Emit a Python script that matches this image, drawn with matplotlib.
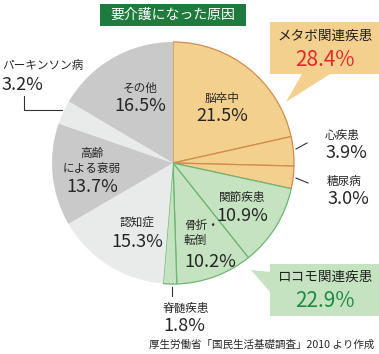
import matplotlib
matplotlib.use("Agg")
import matplotlib.pyplot as plt
from matplotlib.patches import Rectangle, Polygon

plt.rcParams['font.family'] = ['Noto Sans CJK JP', 'DejaVu Sans']

W, H = 379, 354

# data (clockwise from 12 o'clock)
causes = ["脳卒中", "心疾患", "糖尿病", "関節疾患", "骨折・転倒", "脊髄疾患",
          "認知症", "高齢による衰弱", "パーキンソン病", "その他"]
shares = [21.5, 3.9, 3.0, 10.9, 10.2, 1.8, 15.3, 13.7, 3.2, 16.5]
groups = ["metabo", "metabo", "metabo", "locomo", "locomo", "locomo",
          "light", "dark", "light", "dark"]
metabo_total = 28.4
locomo_total = 22.9

fill = {"metabo": "#F3D08E", "locomo": "#C6E3C1", "light": "#E9EAEA", "dark": "#C9C9C9"}
edge = {"metabo": "#D38B4C", "locomo": "#6DB574", "light": "none", "dark": "none"}

def Y(y):
    return H - y

fig = plt.figure(figsize=(W / 100, H / 100), dpi=100)
ax = fig.add_axes([0, 0, 1, 1])

wedges, _ = ax.pie(shares, center=(173, Y(163)), radius=121, startangle=90,
                   counterclock=False, colors=[fill[g] for g in groups],
                   wedgeprops=dict(linewidth=0.9), frame=True)
for w, g in zip(wedges, groups):
    w.set_edgecolor(edge[g])
    if edge[g] == "none":
        w.set_linewidth(0)
ax.set_xlim(0, W)
ax.set_ylim(0, H)
ax.set_aspect("equal")
ax.axis("off")

txt = "#262626"

# title box
ax.add_patch(Rectangle((100, Y(26)), 146, 22, facecolor="#1F7B3D", edgecolor="none"))
ax.text(173, Y(15), "要介護になった原因", color="white", fontsize=10,
        ha="center", va="center")

# slice labels
def lab(name, pct, x, yn, yp, ha="center", fs=8.4, pfs=13):
    ax.text(x, Y(yn), name, fontsize=fs, color=txt, ha=ha, va="center",
            linespacing=1.25)
    ax.text(x, Y(yp), pct, fontsize=pfs, color=txt, ha=ha, va="center")

lab(causes[9], f"{shares[9]}%", 140, 88, 106)
lab(causes[0], f"{shares[0]}%", 222, 98, 116)
lab(causes[1], f"{shares[1]}%", 325, 135, 153, ha="left")
lab(causes[2], f"{shares[2]}%", 327, 182, 199, ha="left")
lab(causes[3], f"{shares[3]}%", 242, 197, 216)
lab("骨折・\n転倒", f"{shares[4]}%", 184, 233, 262, ha="left")
lab(causes[5], f"{shares[5]}%", 163, 308, 326, ha="left")
lab(causes[6], f"{shares[6]}%", 137, 222, 242)
lab("高齢\nによる衰弱", f"{shares[7]}%", 92, 161, 187)
lab(causes[8], f"{shares[8]}%", 2, 65, 85, ha="left")

# leader lines
lc = "#333333"
ax.plot([24, 24, 62], [Y(96), Y(110), Y(110)], color=lc, lw=0.8)
ax.plot([296, 307], [Y(149), Y(143)], color=lc, lw=0.8)
ax.plot([296, 308], [Y(178), Y(183)], color=lc, lw=0.8)
ax.plot([172, 172], [Y(287), Y(296)], color=lc, lw=0.8)

# metabo callout
ax.add_patch(Polygon([(270, Y(22)), (379, Y(22)), (379, Y(74)), (330, Y(74)),
                      (286, Y(102)), (302, Y(74)), (270, Y(74))],
                     closed=True, facecolor=fill["metabo"], edgecolor="none"))
ax.text(325, Y(36), "メタボ関連疾患", fontsize=9.8, color="#222222",
        ha="center", va="center")
ax.text(325, Y(60), f"{metabo_total}%", fontsize=15, color="#E8262D",
        ha="center", va="center")

# locomo callout
ax.add_patch(Polygon([(270, Y(264)), (379, Y(264)), (379, Y(316)), (270, Y(316)),
                      (270, Y(292)), (251, Y(270)), (270, Y(272))],
                     closed=True, facecolor=fill["locomo"], edgecolor="none"))
ax.text(325, Y(277), "ロコモ関連疾患", fontsize=9.8, color="#222222",
        ha="center", va="center")
ax.text(325, Y(301), f"{locomo_total}%", fontsize=15, color="#1E8A45",
        ha="center", va="center")

# source
ax.text(374, Y(345), "厚生労働省「国民生活基礎調査」2010 より作成", fontsize=7.6,
        color=txt, ha="right", va="center")

fig.savefig("out.png", dpi=100)
